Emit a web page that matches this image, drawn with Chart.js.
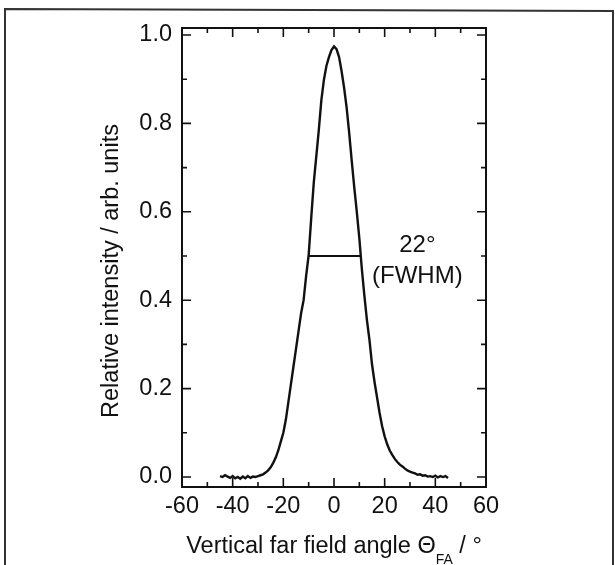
<!DOCTYPE html>
<html>
<head>
<meta charset="utf-8">
<script src="https://cdn.jsdelivr.net/npm/chart.js@4"></script>
<style>
  body { margin: 0; background: #fff; }
  canvas { display: block; }
</style>
</head>
<body>
<canvas id="chart" width="615" height="565"></canvas>
<script>
// far field angle in degrees
const angles = [-45, -44, -43, -42, -41, -40, -39, -38, -37, -36, -35, -34, -33, -32, -31,
    -30, -29, -28, -27, -26, -25, -24, -23, -22, -21, -20, -19, -18, -17, -16,
    -15, -14, -13, -12, -11, -10, -9, -8, -7, -6, -5, -4, -3, -2, -1,
    0,
    1, 2, 3, 4, 5, 6, 7, 8, 9, 10, 11, 12, 13, 14, 15,
    16, 17, 18, 19, 20, 21, 22, 23, 24, 25, 26, 27, 28, 29, 30,
    31, 32, 33, 34, 35, 36, 37, 38, 39, 40, 41, 42, 43, 44, 45];

// relative intensity
const intensity = [0.002, 0.000, 0.004, 0.001, -0.002, 0.002, -0.003, 0.000, -0.004, 0.001, -0.003, 0.002, -0.002, 0.001, 0.000,
    0.002, 0.004, 0.006, 0.010, 0.015, 0.022, 0.032, 0.044, 0.060, 0.080, 0.100, 0.130, 0.170, 0.210, 0.250,
    0.290, 0.330, 0.370, 0.400, 0.455, 0.502, 0.585, 0.665, 0.725, 0.785, 0.852, 0.898, 0.930, 0.950, 0.966,
    0.974,
    0.968, 0.950, 0.918, 0.880, 0.835, 0.778, 0.715, 0.655, 0.600, 0.540, 0.470, 0.410, 0.355, 0.310, 0.255,
    0.215, 0.180, 0.145, 0.115, 0.092, 0.074, 0.060, 0.050, 0.041, 0.034, 0.028, 0.024, 0.019, 0.015, 0.012,
    0.010, 0.008, 0.005, 0.006, 0.003, 0.004, 0.001, 0.002, 0.000, 0.003, -0.001, 0.002, 0.000, 0.002, -0.002];

// FWHM marker
const fwhmX = [-10.1, 10.8];
const fwhmY = [0.5, 0.5];
const fwhmText = ['22°', '(FWHM)'];

const xTickLabels = [-60, -40, -20, 0, 20, 40, 60];
const yTickLabels = ['0.0', '0.2', '0.4', '0.6', '0.8', '1.0'];

const FONT = "'Liberation Sans', Arial, sans-serif";
const INK = '#111';

const frame = {
    id: 'frame',
    beforeDraw(chart) {
        const ctx = chart.ctx;
        ctx.save();
        ctx.fillStyle = '#fff';
        ctx.fillRect(0, 0, chart.width, chart.height);
        // scan border
        ctx.strokeStyle = '#333';
        ctx.lineWidth = 2;
        ctx.beginPath();
        ctx.moveTo(5, chart.height);
        ctx.lineTo(5, 9);
        ctx.lineTo(613, 11);
        ctx.lineTo(613, chart.height);
        ctx.stroke();
        ctx.restore();
    },
    afterDraw(chart) {
        const { ctx, chartArea: a, scales: { x, y } } = chart;
        ctx.save();
        ctx.strokeStyle = INK;
        ctx.lineWidth = 2;
        ctx.strokeRect(a.left, a.top, a.right - a.left, a.bottom - a.top);

        // inward ticks on all four sides
        ctx.lineWidth = 1.6;
        ctx.beginPath();
        x.ticks.forEach(t => {
            const px = x.getPixelForValue(t.value);
            if (px <= a.left + 1 || px >= a.right - 1) return;
            const len = xTickLabels.includes(t.value) ? 9 : 5;
            ctx.moveTo(px, a.bottom); ctx.lineTo(px, a.bottom - len);
            ctx.moveTo(px, a.top); ctx.lineTo(px, a.top + len);
        });
        y.ticks.forEach(t => {
            const py = y.getPixelForValue(t.value);
            if (py <= a.top + 1 || py >= a.bottom - 1) return;
            const len = Math.round(t.value * 10) % 2 === 0 ? 9 : 5;
            ctx.moveTo(a.left, py); ctx.lineTo(a.left + len, py);
            ctx.moveTo(a.right, py); ctx.lineTo(a.right - len, py);
        });
        ctx.stroke();

        // annotation
        ctx.fillStyle = INK;
        ctx.font = '24px ' + FONT;
        ctx.textAlign = 'center';
        ctx.textBaseline = 'middle';
        ctx.fillText(fwhmText[0], x.getPixelForValue(32.9), y.getPixelForValue(0.523));
        ctx.fillText(fwhmText[1], x.getPixelForValue(32.9), y.getPixelForValue(0.455));

        // x axis title with subscript
        ctx.textAlign = 'left';
        ctx.textBaseline = 'alphabetic';
        const main = 'Vertical far field angle Θ';
        const sub = 'FA';
        const tail = ' / °';
        ctx.font = '23.5px ' + FONT;
        const w1 = ctx.measureText(main).width;
        const w3 = ctx.measureText(tail).width;
        ctx.font = '14px ' + FONT;
        const w2 = ctx.measureText(sub).width;
        let tx = (a.left + a.right) / 2 - (w1 + w2 + w3) / 2;
        const base = a.bottom + 66;
        ctx.font = '23.5px ' + FONT;
        ctx.fillText(main, tx, base);
        tx += w1;
        ctx.font = '14px ' + FONT;
        ctx.fillText(sub, tx, base + 11);
        tx += w2;
        ctx.font = '23.5px ' + FONT;
        ctx.fillText(tail, tx, base);

        // y axis title
        ctx.translate(112, 271);
        ctx.rotate(-Math.PI / 2);
        ctx.textAlign = 'center';
        ctx.textBaseline = 'middle';
        ctx.fillText('Relative intensity / arb. units', 0, 0);
        ctx.restore();
    }
};

new Chart(document.getElementById('chart'), {
    type: 'scatter',
    data: {
        datasets: [
            {
                label: 'Far field',
                data: angles.map((a, i) => ({ x: a, y: intensity[i] })),
                showLine: true,
                borderColor: INK,
                borderWidth: 2.4,
                pointRadius: 0,
                tension: 0
            },
            {
                label: 'FWHM',
                data: fwhmX.map((a, i) => ({ x: a, y: fwhmY[i] })),
                showLine: true,
                borderColor: INK,
                borderWidth: 2,
                pointRadius: 0
            }
        ]
    },
    options: {
        responsive: false,
        animation: false,
        layout: { padding: { top: 28, right: 129, left: 0, bottom: 0 } },
        plugins: { legend: { display: false }, tooltip: { enabled: false } },
        scales: {
            x: {
                type: 'linear',
                min: -60,
                max: 60,
                afterFit(s) { s.height = 78; },
                grid: { display: false, drawTicks: false },
                border: { display: false },
                ticks: {
                    stepSize: 10,
                    maxTicksLimit: 30,
                    includeBounds: false,
                    autoSkip: false,
                    maxRotation: 0,
                    padding: 5,
                    color: INK,
                    font: { family: FONT, size: 23.5 },
                    callback: v => xTickLabels.includes(v) ? String(v) : ''
                }
            },
            y: {
                min: -0.0226,
                max: 1.0158,
                afterFit(s) { s.width = 182; },
                grid: { display: false, drawTicks: false },
                border: { display: false },
                ticks: {
                    stepSize: 0.1,
                    maxTicksLimit: 30,
                    includeBounds: false,
                    autoSkip: false,
                    padding: 10,
                    color: INK,
                    font: { family: FONT, size: 23.5 },
                    callback: v => {
                        const lbl = (Math.round(v * 10) / 10).toFixed(1);
                        return Math.round(v * 10) % 2 === 0 && yTickLabels.includes(lbl) ? lbl : '';
                    }
                }
            }
        }
    },
    plugins: [frame]
});
</script>
</body>
</html>
